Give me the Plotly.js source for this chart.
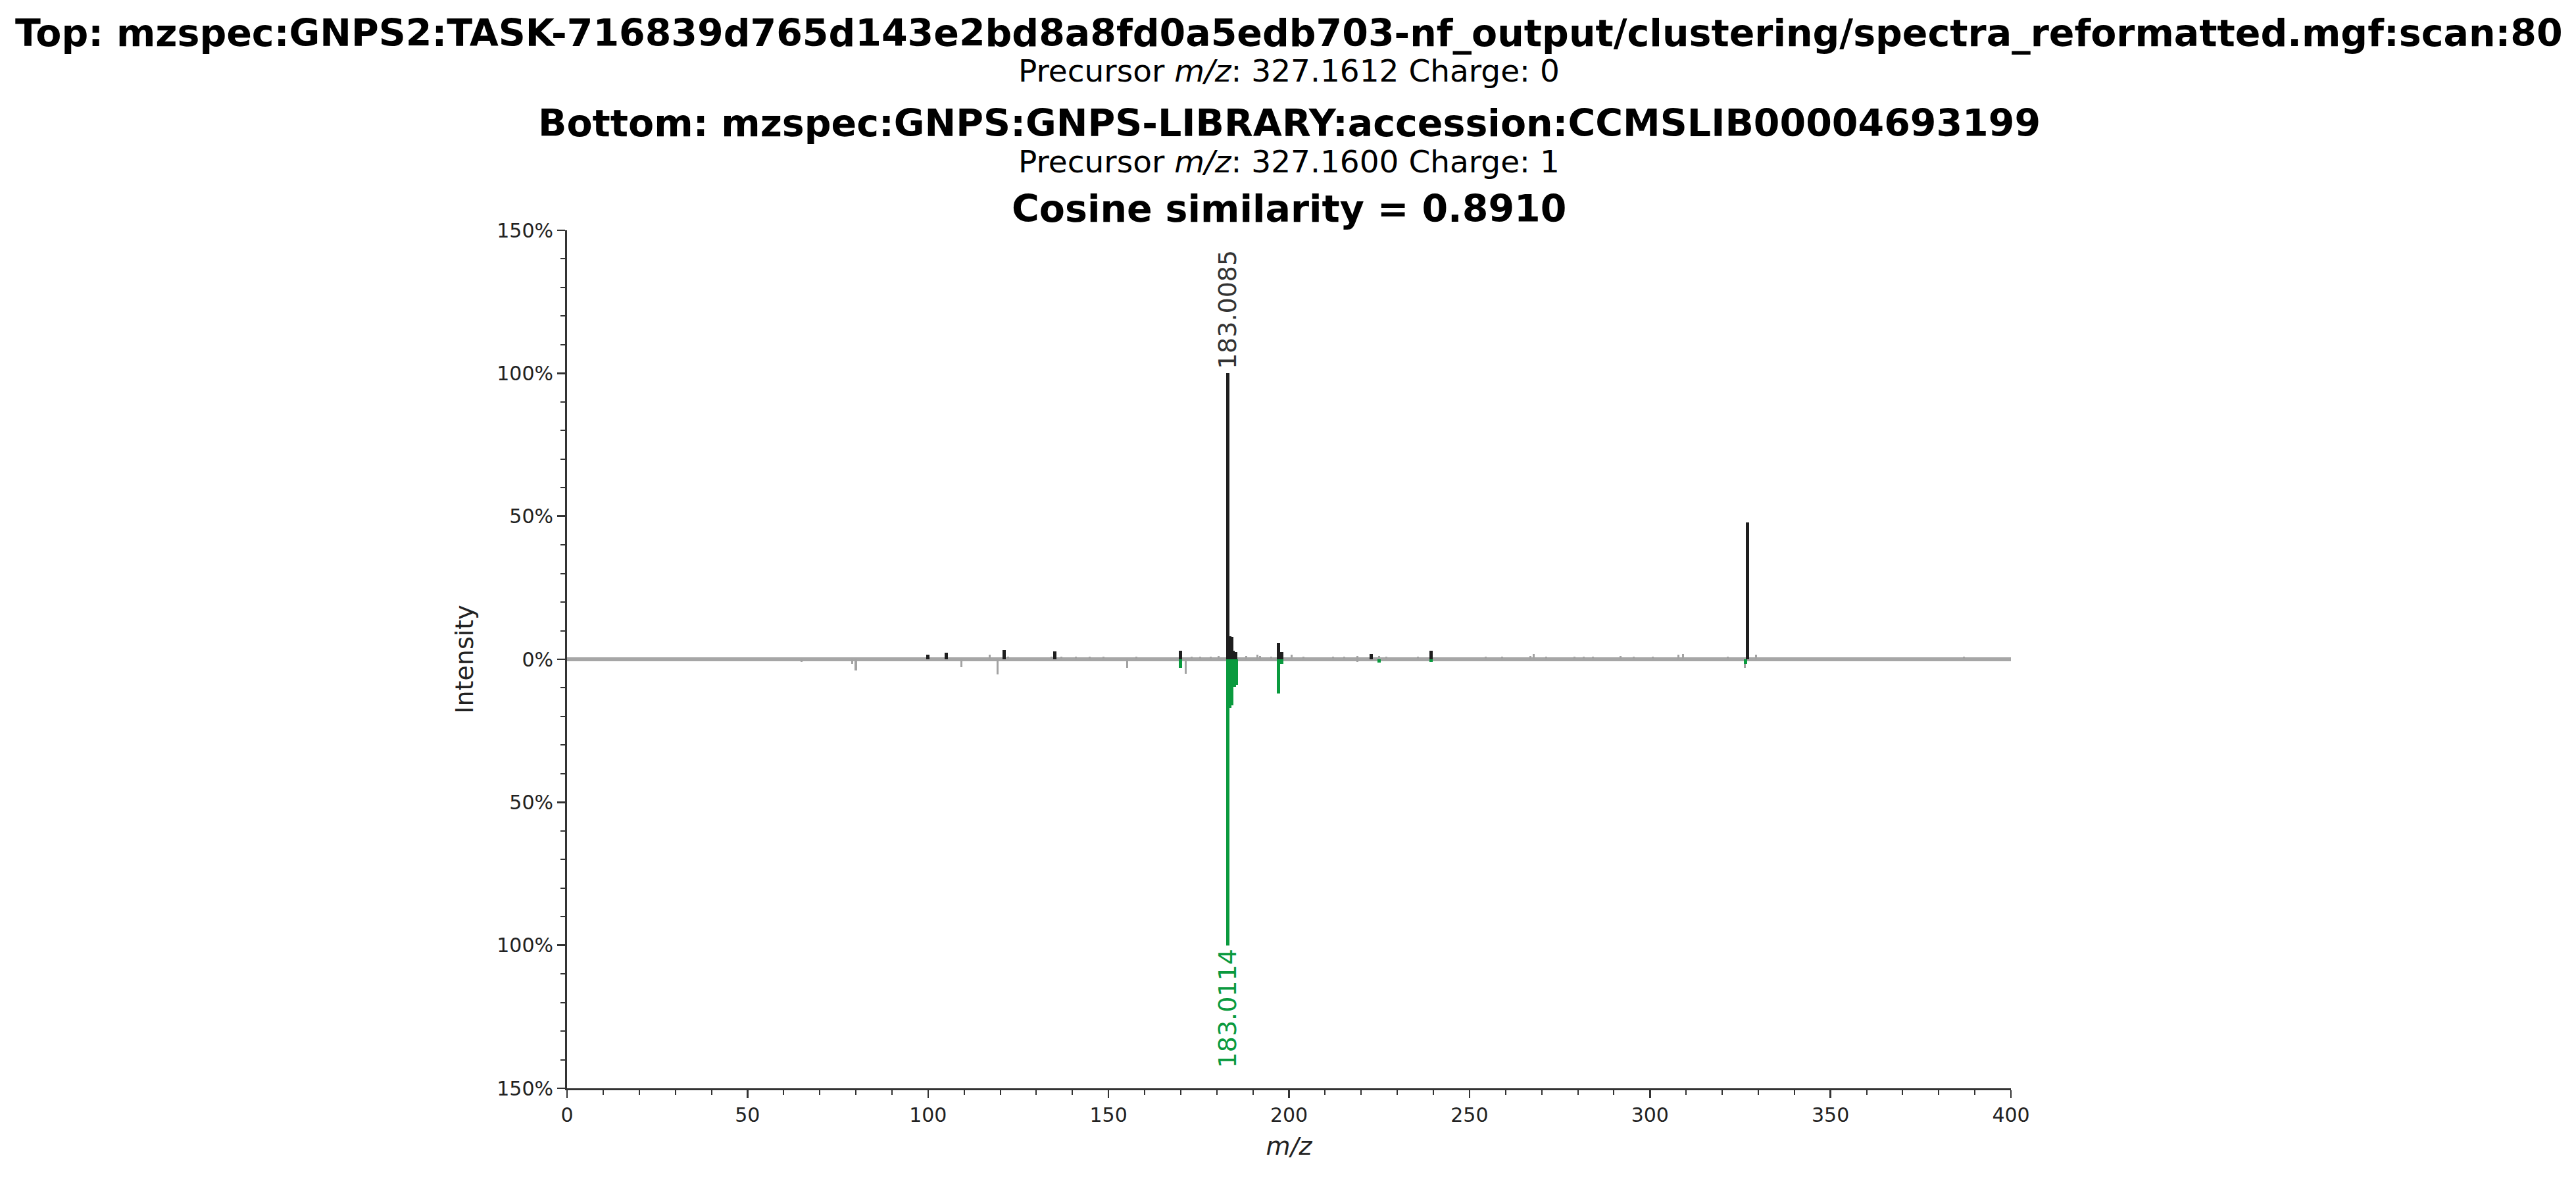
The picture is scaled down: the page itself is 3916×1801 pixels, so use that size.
<!DOCTYPE html>
<html>
<head>
<meta charset="utf-8">
<script src="https://cdn.plot.ly/plotly-3.0.1.min.js"></script>
<style>
  html, body { margin: 0; padding: 0; background: #fff; }
  #chart { width: 3916px; height: 1801px; }
</style>
</head>
<body>
<div id="chart"></div>
<script>
// top spectrum (query), matched peaks
var topMz  = [100.0, 105.0, 121.1, 135.1, 170.0, 183.0085, 183.6, 184.1, 184.6, 185.2, 197.0, 198.0, 222.8, 239.3, 327.1];
var topInt = [1.5, 2.3, 3.3, 2.7, 3.1, 100, 8.0, 7.8, 3.0, 2.5, 5.8, 2.5, 1.9, 3.1, 47.8];

// top spectrum, small unmatched peaks
var topMzOther  = [117.0, 122.2, 134.3, 137.0, 140.9, 144.7, 148.6, 157.8, 173.1, 175.4, 178.4, 180.5,
                   188.2, 191.2, 192.0, 195.0, 200.7, 204.0, 212.2, 215.3, 219.0, 225.0, 227.0, 235.8,
                   254.4, 259.0, 266.8, 267.8, 271.3, 279.0, 281.6, 284.2, 291.9, 295.4, 300.8, 307.8,
                   309.1, 321.6, 329.3, 386.9];
var topIntOther = [1.5, 1.0, 1.0, 1.0, 1.0, 1.0, 1.0, 1.0, 1.0, 1.0, 1.0, 1.2,
                   1.2, 1.5, 1.2, 1.0, 1.5, 1.0, 1.0, 1.0, 1.2, 1.2, 1.0, 1.0,
                   1.0, 1.0, 1.2, 1.9, 1.0, 1.0, 1.0, 1.0, 1.2, 1.0, 1.0, 1.5,
                   1.8, 1.0, 1.5, 1.0];

// bottom spectrum (library), matched peaks
var botMz  = [170.0, 183.0114, 183.6, 184.2, 184.9, 185.4, 197.0, 198.0, 225.0, 239.3, 326.5];
var botInt = [3.0, 100, 17.0, 16.0, 9.6, 9.0, 11.9, 1.5, 1.2, 1.0, 1.5];

// bottom spectrum, unmatched peaks
var botMzOther  = [65.0, 79.0, 80.0, 109.3, 119.2, 155.2, 171.3, 219.0, 326.2];
var botIntOther = [1.0, 1.5, 3.8, 2.7, 5.4, 3.0, 5.0, 1.0, 3.0];

var yTickVals = [-150, -100, -50, 0, 50, 100, 150];
var yTickText = ['150%', '100%', '50%', '0%', '50%', '100%', '150%'];

var titleTop = 'Top: mzspec:GNPS2:TASK-716839d765d143e2bd8a8fd0a5edb703-nf_output/clustering/spectra_reformatted.mgf:scan:80';
var subTop = 'Precursor <i>m/z</i>: 327.1612 Charge: 0';
var titleBot = 'Bottom: mzspec:GNPS:GNPS-LIBRARY:accession:CCMSLIB00004693199';
var subBot = 'Precursor <i>m/z</i>: 327.1600 Charge: 1';
var titleCos = 'Cosine similarity = 0.8910';

var black = '#1e1e1e';
var grey = '#a3a3a3';
var green = '#0a9a3e';

function neg(arr) { return arr.map(function (v) { return -v; }); }

var traces = [
  { type: 'bar', x: topMzOther, y: topIntOther, width: 0.55, marker: { color: grey }, hoverinfo: 'none' },
  { type: 'bar', x: botMzOther, y: neg(botIntOther), width: 0.55, marker: { color: grey }, hoverinfo: 'none' },
  { type: 'bar', x: topMz, y: topInt, width: 0.9, marker: { color: black }, hoverinfo: 'none' },
  { type: 'bar', x: botMz, y: neg(botInt), width: 0.9, marker: { color: green }, hoverinfo: 'none' }
];

var font = 'DejaVu Sans, Liberation Sans, sans-serif';

function head(text, y, size, bold) {
  return {
    text: text, xref: 'paper', yref: 'paper', x: 0.5, y: y,
    xanchor: 'center', yanchor: 'middle', showarrow: false,
    font: { family: font, size: size, color: '#000', weight: bold ? 'bold' : 'normal' }
  };
}

var annotations = [
  head(titleTop, 1.2301, 57, true),
  head(subTop, 1.1863, 47, false),
  head(titleBot, 1.1250, 57, true),
  head(subBot, 1.0805, 47, false),
  head(titleCos, 1.0253, 57, true),
  {
    text: topMz[5].toFixed(4), x: topMz[5], y: topInt[5], xref: 'x', yref: 'y',
    textangle: -90, xanchor: 'center', yanchor: 'bottom', showarrow: false, yshift: 4,
    font: { family: font, size: 38, color: '#333' }
  },
  {
    text: botMz[1].toFixed(4), x: botMz[1], y: -botInt[1], xref: 'x', yref: 'y',
    textangle: -90, xanchor: 'center', yanchor: 'top', showarrow: false, yshift: -4,
    font: { family: font, size: 38, color: green }
  }
];

var layout = {
  width: 3916,
  height: 1801,
  margin: { l: 862, r: 859, t: 350, b: 147 },
  paper_bgcolor: '#fff',
  plot_bgcolor: '#fff',
  showlegend: false,
  barmode: 'overlay',
  bargap: 0,
  font: { family: font, color: '#222' },
  xaxis: {
    range: [0, 400],
    dtick: 50,
    tick0: 0,
    showgrid: false,
    zeroline: false,
    showline: true,
    linecolor: '#333',
    linewidth: 3,
    ticks: 'outside',
    ticklen: 12,
    tickwidth: 2.5,
    tickcolor: '#333',
    minor: { dtick: 10, ticks: 'outside', ticklen: 7, tickwidth: 2, tickcolor: '#333' },
    tickfont: { family: font, size: 30, color: '#222' },
    title: { text: '<i>m/z</i>', font: { family: font, size: 38, color: '#222' }, standoff: 18 },
    automargin: false
  },
  yaxis: {
    range: [-150, 150],
    tickvals: yTickVals,
    ticktext: yTickText,
    showgrid: false,
    zeroline: true,
    zerolinecolor: '#a6a6a6',
    zerolinewidth: 6,
    showline: true,
    linecolor: '#333',
    linewidth: 3,
    ticks: 'outside',
    ticklen: 12,
    tickwidth: 2.5,
    tickcolor: '#333',
    minor: { dtick: 10, tick0: 0, ticks: 'outside', ticklen: 7, tickwidth: 2, tickcolor: '#333' },
    tickfont: { family: font, size: 30, color: '#222' },
    title: { text: 'Intensity', font: { family: font, size: 38, color: '#222' }, standoff: 24 },
    automargin: false
  },
  annotations: annotations
};

Plotly.newPlot('chart', traces, layout, { staticPlot: true });
</script>
</body>
</html>
